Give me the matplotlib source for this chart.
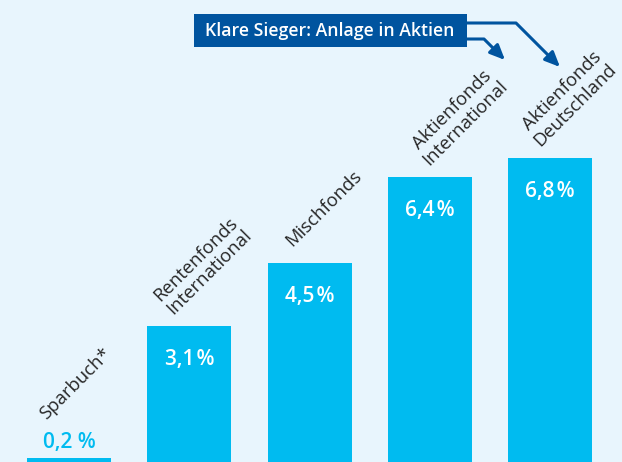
import matplotlib
matplotlib.use("Agg")
import matplotlib.pyplot as plt
from matplotlib.patches import Rectangle

# Rendite pro Jahr in Prozent
categories = ["Sparbuch*", "Rentenfonds\nInternational", "Mischfonds",
              "Aktienfonds\nInternational", "Aktienfonds\nDeutschland"]
values = [0.2, 3.1, 4.5, 6.4, 6.8]
value_labels = ["0,2 %", "3,1\u200a%", "4,5\u200a%", "6,4\u200a%", "6,8\u200a%"]
callout = "Klare Sieger: Anlage in Aktien"

# Lage der schraegen Beschriftungen relativ zur Balkenoberkante (Pixel)
label_offsets = [(-20, 35), (-13, 8), (-15, 13), (2, 8), (-7, 9)]

BG = "#e8f5fd"
CYAN = "#00bbf0"
NAVY = "#00549f"
TEXT = "#262626"

plt.rcParams["font.family"] = ["Open Sans", "DejaVu Sans"]

fig = plt.figure(figsize=(6.22, 4.62), dpi=100, facecolor=BG)
ax = fig.add_axes([0, 0, 1, 1], facecolor=BG)

xs = list(range(len(values)))
ax.bar(xs, values, width=0.70, color=CYAN)
ax.set_xlim(-0.574, 4.597)
ax.set_ylim(0.11, 10.29)
ax.axis("off")

for i, v in enumerate(values):
    # Wert: im Balken, beim kleinen Balken darueber
    if v < 1:
        ax.annotate(value_labels[i], (i, v), xytext=(0, 10), textcoords="offset pixels",
                    ha="center", va="baseline", fontsize=15, fontweight="semibold",
                    color=CYAN)
    else:
        ax.annotate(value_labels[i], (i, v), xytext=(0, -39), textcoords="offset pixels",
                    ha="center", va="baseline", fontsize=15, fontweight="semibold",
                    color="white")
    dx, dy = label_offsets[i]
    ax.annotate(categories[i], (i, v), xytext=(dx, dy), textcoords="offset pixels",
                rotation=45, rotation_mode="anchor", ha="left", va="bottom",
                multialignment="center", fontsize=13.3, color=TEXT, linespacing=1.05)

# Hinweiskasten oben
fig.patches.append(Rectangle((1.94, 4.15), 2.73, 0.33, transform=fig.dpi_scale_trans,
                             facecolor=NAVY, edgecolor="none"))
fig.text(3.30 / 6.22, (4.15 + 0.165) / 4.62, callout, ha="center", va="center",
         fontsize=12.7, fontweight="semibold", color="white")

arrow = dict(arrowstyle="-|>,head_length=0.9,head_width=0.4", color=NAVY, lw=2.2,
             shrinkA=0, shrinkB=0, connectionstyle="angle,angleA=0,angleB=-45,rad=0")
ax.annotate("", xy=(505, 462 - 60), xycoords="figure pixels",
            xytext=(467, 462 - 39), textcoords="figure pixels", arrowprops=arrow)
ax.annotate("", xy=(560, 462 - 67), xycoords="figure pixels",
            xytext=(467, 462 - 23), textcoords="figure pixels", arrowprops=arrow)

fig.savefig("out.png", dpi=100, facecolor=BG)
